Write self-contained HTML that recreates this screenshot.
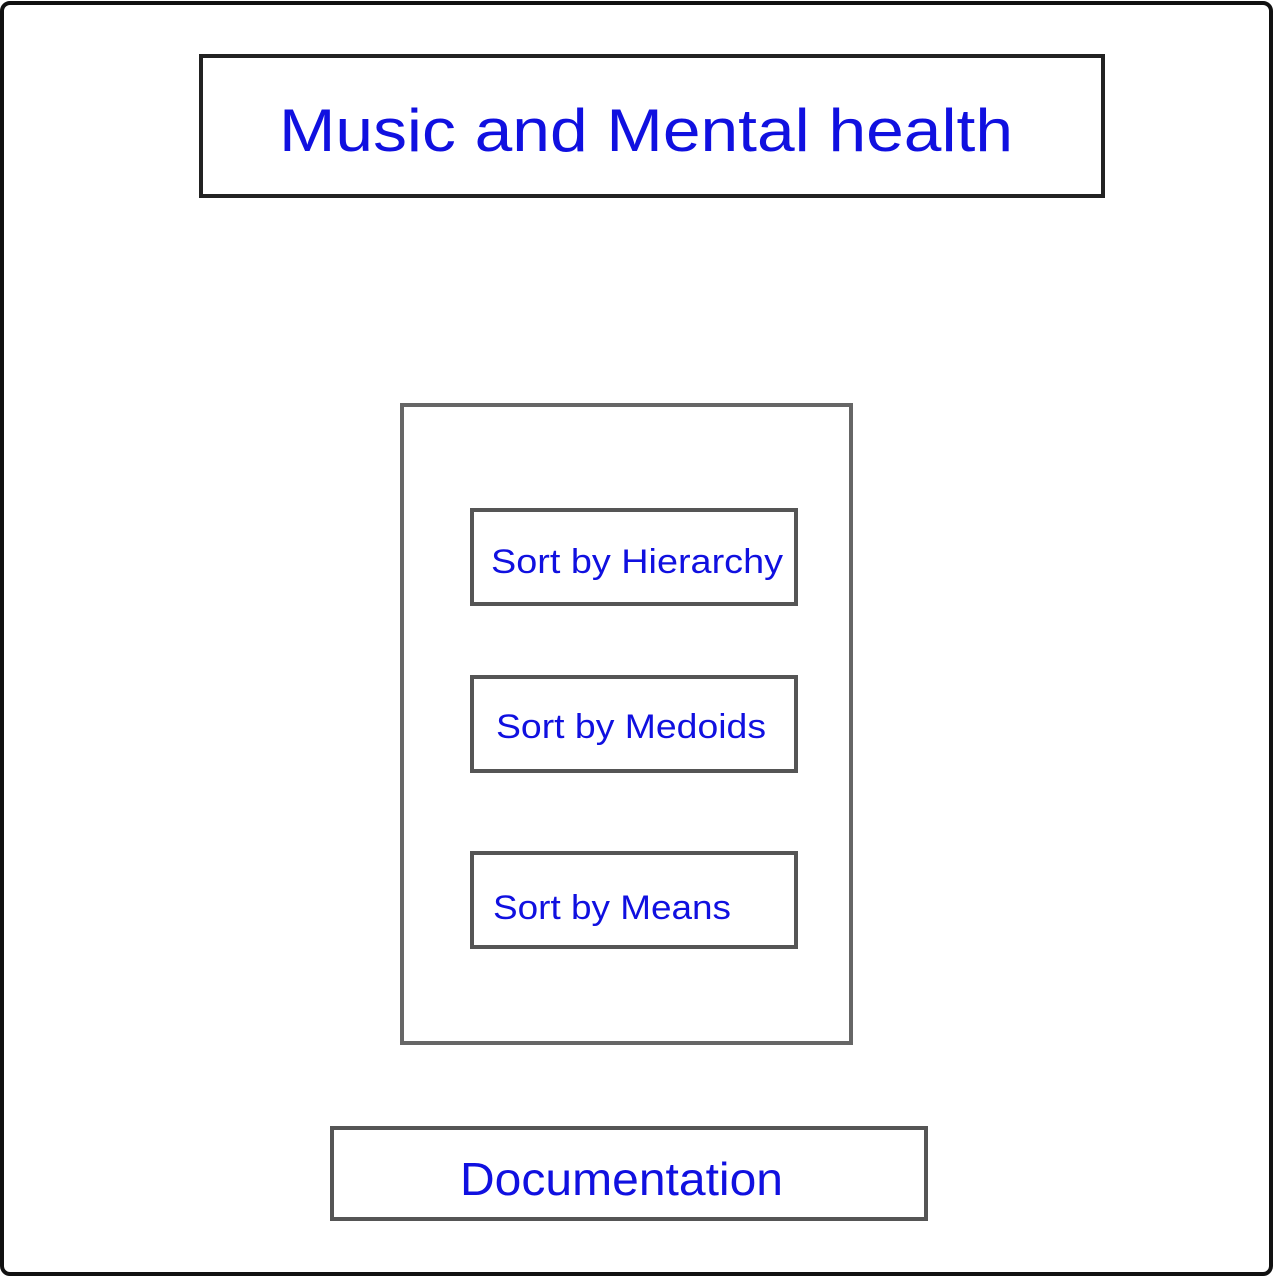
<!DOCTYPE html>
<html><head><meta charset="utf-8"><style>
html,body{margin:0;padding:0;background:#fff;}
svg{display:block;}
text{font-family:"Liberation Sans",sans-serif;fill:#1010e0;}
</style></head><body>
<svg width="1274" height="1280" viewBox="0 0 1274 1280" xmlns="http://www.w3.org/2000/svg">
<rect x="2" y="3" width="1269" height="1271" rx="8" fill="#fff" stroke="#111" stroke-width="4"/>
<rect x="201" y="56" width="902" height="140" fill="none" stroke="#222" stroke-width="4"/>
<text x="279" y="151" font-size="60" textLength="734" lengthAdjust="spacingAndGlyphs">Music and Mental health</text>
<rect x="402" y="405" width="449" height="638" fill="none" stroke="#666" stroke-width="4"/>
<rect x="472" y="510" width="324" height="94" fill="none" stroke="#555" stroke-width="4"/>
<text x="491" y="573" font-size="34" textLength="292" lengthAdjust="spacingAndGlyphs">Sort by Hierarchy</text>
<rect x="472" y="677" width="324" height="94" fill="none" stroke="#555" stroke-width="4"/>
<text x="496" y="738" font-size="34" textLength="270" lengthAdjust="spacingAndGlyphs">Sort by Medoids</text>
<rect x="472" y="853" width="324" height="94" fill="none" stroke="#555" stroke-width="4"/>
<text x="493" y="919" font-size="34" textLength="238" lengthAdjust="spacingAndGlyphs">Sort by Means</text>
<rect x="332" y="1128" width="594" height="91" fill="none" stroke="#555" stroke-width="4"/>
<text x="460" y="1195" font-size="46" textLength="323" lengthAdjust="spacingAndGlyphs">Documentation</text>
</svg>
</body></html>
